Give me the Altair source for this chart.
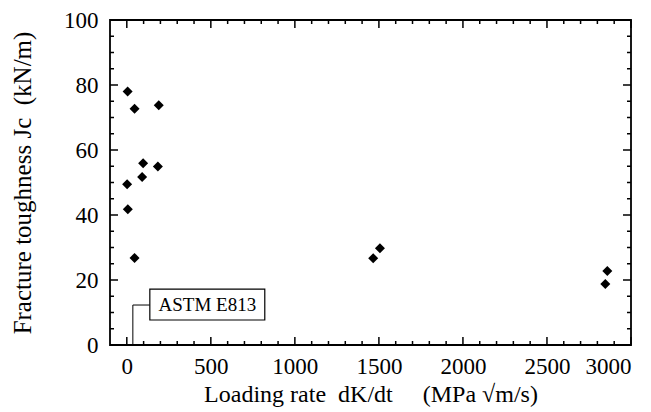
import altair as alt
import pandas as pd

# data
rate = [5, 46, 190, 97, 185, 91, 2, 6, 46, 1466, 1506, 2859, 2847]
jc = [78, 72.7, 73.8, 55.9, 54.9, 51.7, 49.5, 41.8, 26.8, 26.7, 29.8, 22.8, 18.8]

x_major = [0, 500, 1000, 1500, 2000, 2500, 3000]
x_minor = [v for v in range(0, 3001, 100) if v % 500 != 0]
y_major = [0, 20, 40, 60, 80, 100]
y_minor = [v for v in range(0, 101, 5) if v % 20 != 0]

box_x = [137, 821]
box_y = [7.7, 17.2]
box_label = ["ASTM E813"]
leader_x = [137, 36, 36]
leader_y = [12.3, 12.3, 0]

W, H = 521, 325
FONT = "Times New Roman, Liberation Serif, serif"
NB = "\u00a0"

xs = alt.Scale(domain=[-100, 3000], nice=False, zero=False)
ys = alt.Scale(domain=[0, 100], nice=False, zero=False)

XAX = alt.Axis(
    values=x_major, format="d", ticks=False, domain=False, grid=False, labelFont=FONT, labelFontSize=23,
    labelColor="black", labelPadding=10,
    title="Loading rate" + NB * 2 + "dK/dt" + NB * 5 + "(MPa \u221am/s)",
    titleFont=FONT, titleFontSize=24, titleFontWeight="normal", titleColor="black", titlePadding=4)
YAX = alt.Axis(
    values=y_major, format="d", ticks=False, domain=False, grid=False, labelFont=FONT, labelFontSize=23,
    labelColor="black", labelPadding=12,
    title="Fracture toughness Jc" + NB * 2 + "(kN/m)",
    titleFont=FONT, titleFontSize=25, titleFontWeight="normal", titleColor="black", titlePadding=28)

def X(f):
    return alt.X(f, scale=xs, axis=XAX)

def Y(f):
    return alt.Y(f, scale=ys, axis=YAX)

pts = pd.DataFrame({"rate": rate, "jc": jc})

points = alt.Chart(pts).mark_point(shape="diamond", filled=True, color="black", size=100, opacity=1).encode(
    x=X("rate:Q"), y=Y("jc:Q"))

def xticks(vals, length):
    df = pd.DataFrame({"v": vals})
    b = alt.Chart(df).mark_rule(color="black", strokeWidth=1.5).encode(
        x=X("v:Q"), y=alt.value(H), y2=alt.value(H - length))
    t = alt.Chart(df).mark_rule(color="black", strokeWidth=1.5).encode(
        x=X("v:Q"), y=alt.value(0), y2=alt.value(length))
    return [b, t]

def yticks(vals, length):
    df = pd.DataFrame({"v": vals})
    l = alt.Chart(df).mark_rule(color="black", strokeWidth=1.5).encode(
        y=Y("v:Q"), x=alt.value(0), x2=alt.value(length))
    r = alt.Chart(df).mark_rule(color="black", strokeWidth=1.5).encode(
        y=Y("v:Q"), x=alt.value(W), x2=alt.value(W - length))
    return [l, r]

tick_layers = xticks(x_major, 8) + xticks(x_minor, 4) + yticks(y_major, 8) + yticks(y_minor, 4)

box_df = pd.DataFrame({"x1": [box_x[0]], "x2": [box_x[1]], "y1": [box_y[0]], "y2": [box_y[1]],
                       "label": box_label, "xc": [(box_x[0] + box_x[1]) / 2],
                       "yc": [(box_y[0] + box_y[1]) / 2]})
box = alt.Chart(box_df).mark_rect(fill="white", stroke="black", strokeWidth=1.2).encode(
    x=X("x1:Q"), x2="x2:Q", y=Y("y1:Q"), y2="y2:Q")
label = alt.Chart(box_df).mark_text(font=FONT, fontSize=19, color="black", baseline="middle", align="center").encode(
    x=X("xc:Q"), y=Y("yc:Q"), text="label:N")

lead_df = pd.DataFrame({"x": leader_x, "y": leader_y, "o": list(range(len(leader_x)))})
leader = alt.Chart(lead_df).mark_line(color="black", strokeWidth=1).encode(
    x=X("x:Q"), y=Y("y:Q"), order="o:Q")

chart = alt.layer(points, *tick_layers, leader, box, label).properties(
    width=W, height=H,
    autosize=alt.AutoSizeParams(type="none"),
    padding={"left": 102, "top": 12, "right": 10, "bottom": 66},
    background="white",
).configure(font=FONT).configure_view(stroke="black", strokeWidth=1.8)

chart.save("out.html", embed_options={"renderer": "svg", "actions": False})
